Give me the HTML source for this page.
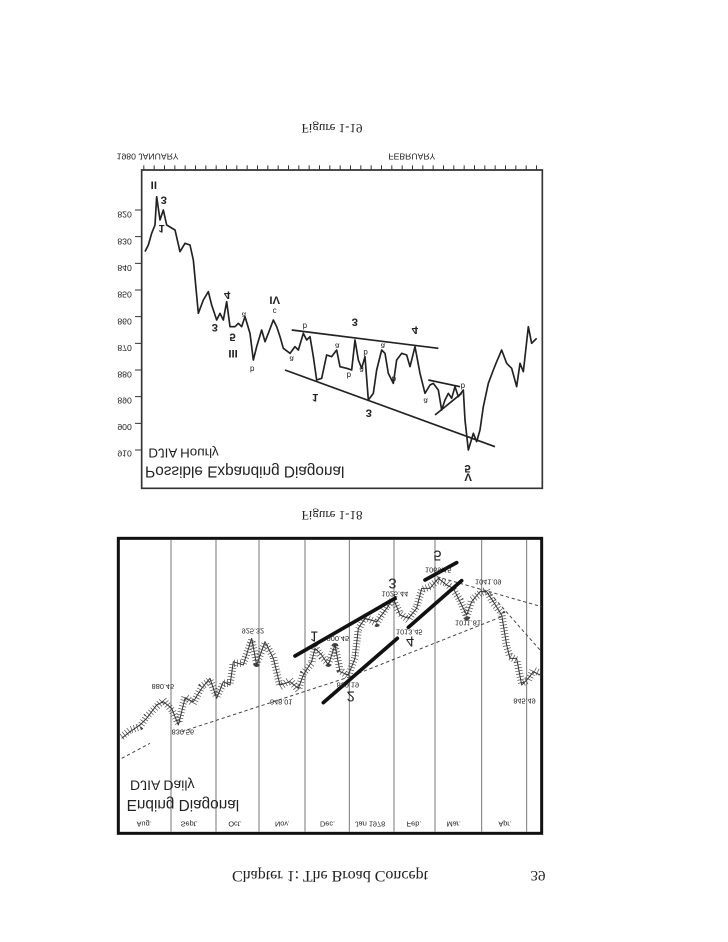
<!DOCTYPE html>
<html><head><meta charset="utf-8"><style>
html,body{margin:0;padding:0;background:#fff;}
svg{display:block;}
text{font-family:"Liberation Sans",sans-serif;fill:#222;}
.serif{font-family:"Liberation Serif",serif;}
</style></head><body>
<svg width="728" height="942" viewBox="0 0 728 942" xmlns="http://www.w3.org/2000/svg">
<rect width="728" height="942" fill="#fff"/>
<text class="serif" transform="translate(332,124) scale(1,-1)" font-size="13" text-anchor="middle">Figure 1-19</text>
<text class="serif" transform="translate(332,511) scale(1,-1)" font-size="13" text-anchor="middle">Figure 1-18</text>
<text class="serif" transform="translate(330,871) scale(1,-1)" font-size="16" text-anchor="middle">Chapter 1: The Broad Concept</text>
<text class="serif" transform="translate(538,871) scale(1,-1)" font-size="15" text-anchor="middle">39</text>

<g transform="translate(110,120) scale(0.33333)">
  <path d="M95 1105 L1297 1105 L1297 150 L95 150 Z" fill="none" stroke="#333" stroke-width="5"/>
  <line x1="100" y1="143" x2="1295" y2="143" stroke="#333" stroke-width="14" stroke-dasharray="3,28"/>
  <text transform="translate(20,100) scale(1,-1)" font-size="26">1980 JANUARY</text>
  <text transform="translate(835,100) scale(1,-1)" font-size="26">FEBRUARY</text>
  <g stroke="#333" stroke-width="3" fill="none">
    <path d="M75 990H95M75 910H95M75 830H95M75 750H95M75 670H95M75 590H95M75 510H95M75 430H95M75 350H95M75 270H95"/>
  </g>
  <g font-size="26">
    <text transform="translate(22,275) scale(1,-1)">820</text>
    <text transform="translate(22,355) scale(1,-1)">830</text>
    <text transform="translate(22,435) scale(1,-1)">840</text>
    <text transform="translate(22,515) scale(1,-1)">850</text>
    <text transform="translate(22,595) scale(1,-1)">860</text>
    <text transform="translate(22,675) scale(1,-1)">870</text>
    <text transform="translate(22,755) scale(1,-1)">880</text>
    <text transform="translate(22,832) scale(1,-1)">890</text>
    <text transform="translate(22,912) scale(1,-1)">900</text>
    <text transform="translate(22,992) scale(1,-1)">910</text>
  </g>
  <polyline fill="none" stroke="#222" stroke-width="5" stroke-linejoin="round" points="105,395 115,375 125,340 135,315 140,230 150,300 160,270 170,315 195,330 210,395 225,370 240,375 250,420 265,580 280,540 295,515 305,555 320,600 330,580 340,600 350,545 360,620 375,620 385,610 395,620 405,590 420,640 430,720 440,680 455,630 465,665 475,640 490,600 500,620 510,650 520,685 540,700 555,680 565,690 580,640 590,660 600,650 610,710 620,780 635,775 650,705 665,710 680,690 690,740 710,745 725,750 735,660 745,720 755,745 765,710 775,840 790,820 800,750 815,690 825,700 835,760 850,790 860,720 875,700 890,705 900,740 915,680 930,760 945,820 960,795 970,790 985,810 995,870 1005,840 1015,820 1025,835 1035,800 1045,830 1060,810 1065,900 1075,990 1090,940 1100,965 1110,930 1120,860 1135,790 1150,750 1160,725 1175,690 1190,730 1205,745 1220,800 1230,730 1240,755 1255,620 1265,670 1280,655"/>
  <g stroke="#222" stroke-width="5">
    <line x1="545" y1="630" x2="985" y2="685"/>
    <line x1="525" y1="750" x2="1155" y2="980"/>
    <line x1="955" y1="780" x2="1050" y2="800"/>
    <line x1="975" y1="885" x2="1055" y2="820"/>
  </g>
  <g font-size="34" font-weight="bold">
    <text transform="translate(122,185) scale(1,-1)">II</text>
    <text transform="translate(152,230) scale(1,-1)">3</text>
    <text transform="translate(145,315) scale(1,-1)">1</text>
    <text transform="translate(342,515) scale(1,-1)">4</text>
    <text transform="translate(305,612) scale(1,-1)">3</text>
    <text transform="translate(358,640) scale(1,-1)">5</text>
    <text transform="translate(355,690) scale(1,-1)">III</text>
    <text transform="translate(478,530) scale(1,-1)">IV</text>
    <text transform="translate(725,595) scale(1,-1)">3</text>
    <text transform="translate(905,620) scale(1,-1)">4</text>
    <text transform="translate(606,822) scale(1,-1)">1</text>
    <text transform="translate(767,868) scale(1,-1)">3</text>
    <text transform="translate(1063,1035) scale(1,-1)">5</text>
    <text transform="translate(1063,1060) scale(1,-1)">V</text>
  </g>
  <g font-size="24">
    <text transform="translate(395,578) scale(1,-1)">a</text>
    <text transform="translate(420,740) scale(1,-1)">b</text>
    <text transform="translate(488,565) scale(1,-1)">c</text>
    <text transform="translate(538,710) scale(1,-1)">a</text>
    <text transform="translate(578,610) scale(1,-1)">b</text>
    <text transform="translate(675,670) scale(1,-1)">a</text>
    <text transform="translate(710,758) scale(1,-1)">b</text>
    <text transform="translate(748,742) scale(1,-1)">a</text>
    <text transform="translate(760,690) scale(1,-1)">b</text>
    <text transform="translate(812,670) scale(1,-1)">a</text>
    <text transform="translate(845,770) scale(1,-1)">b</text>
    <text transform="translate(940,835) scale(1,-1)">a</text>
    <text transform="translate(1052,790) scale(1,-1)">b</text>
  </g>
  <text transform="translate(115,985) scale(1,-1)" font-size="40">DJIA Hourly</text>
  <text transform="translate(105,1040) scale(1,-1)" font-size="46">Possible Expanding Diagonal</text>
</g>

<g transform="translate(110,530) scale(0.33333)">
  <rect x="25" y="25" width="1270" height="885" fill="none" stroke="#111" stroke-width="9"/>
  <g stroke="#777" stroke-width="3">
    <line x1="183" y1="30" x2="183" y2="905"/><line x1="318" y1="30" x2="318" y2="905"/>
    <line x1="447" y1="30" x2="447" y2="905"/><line x1="585" y1="30" x2="585" y2="905"/>
    <line x1="718" y1="30" x2="718" y2="905"/><line x1="852" y1="30" x2="852" y2="905"/>
    <line x1="975" y1="30" x2="975" y2="905"/><line x1="1115" y1="30" x2="1115" y2="905"/>
    <line x1="1250" y1="30" x2="1250" y2="905"/>
  </g>
  <g fill="none" stroke="#333" stroke-linejoin="round">
    <polyline stroke-width="22" stroke-dasharray="2,7" stroke="#444" points="35,620 60,600 90,590 110,560 140,530 160,510 185,540 205,580 225,500 250,520 275,470 300,450 320,500 340,460 360,460 370,400 400,400 425,330 440,400 465,340 490,380 510,470 540,450 565,480 580,430 605,400 615,350 635,380 655,400 675,350 690,420 715,440 735,380 745,300 765,260 800,280 830,230 850,210 870,250 895,270 920,230 935,180 960,170 985,150 1010,160 1030,180 1050,210 1070,260 1085,210 1110,190 1130,180 1150,220 1175,250 1190,350 1200,380 1220,390 1235,460 1255,450 1270,420 1290,430"/>
    <polyline stroke-width="3" points="35,625 60,605 90,585 110,565 140,525 160,515 185,535 205,585 225,505 250,515 275,475 300,445 320,505 340,455 360,465 370,395 400,405 425,325 440,405 465,335 490,385 510,465 540,455 565,475 580,435 605,395 615,355 635,375 655,405 675,345 690,425 715,435 735,385 745,295 765,265 800,275 830,235 850,205 870,255 895,265 920,235 935,175 960,175 985,145 1010,165 1030,175 1050,215 1070,255 1085,215 1110,185 1130,185 1150,215 1175,255 1190,345 1200,385 1220,385 1235,465 1255,445 1270,425 1290,435"/>
  </g>
  <g stroke="#444" stroke-width="3" stroke-dasharray="10,8" fill="none">
    <line x1="35" y1="685" x2="120" y2="640"/>
    <polyline points="215,605 720,440 1175,260"/>
    <line x1="980" y1="140" x2="1295" y2="230"/>
    <line x1="1140" y1="190" x2="1290" y2="360"/>
  </g>
  <g stroke="#111" stroke-width="11" stroke-linecap="round">
    <line x1="555" y1="378" x2="855" y2="205"/>
    <line x1="640" y1="518" x2="862" y2="325"/>
    <line x1="895" y1="292" x2="1055" y2="152"/>
    <line x1="945" y1="150" x2="1040" y2="98"/>
  </g>
  <g font-size="44">
    <text transform="translate(600,305) scale(1,-1)">1</text>
    <text transform="translate(710,485) scale(1,-1)">2</text>
    <text transform="translate(835,145) scale(1,-1)">3</text>
    <text transform="translate(888,320) scale(1,-1)">4</text>
    <text transform="translate(970,62) scale(1,-1)">5</text>
  </g>
  <g font-size="22">
    <text transform="translate(125,462) scale(1,-1)">880.45</text>
    <text transform="translate(185,598) scale(1,-1)">830.56</text>
    <text transform="translate(395,295) scale(1,-1)">925.32</text>
    <text transform="translate(480,508) scale(1,-1)">848.01</text>
    <text transform="translate(650,318) scale(1,-1)">900.45</text>
    <text transform="translate(680,458) scale(1,-1)">859.19</text>
    <text transform="translate(815,185) scale(1,-1)">1025.44</text>
    <text transform="translate(858,298) scale(1,-1)">1013.45</text>
    <text transform="translate(945,112) scale(1,-1)">1069.15</text>
    <text transform="translate(1035,272) scale(1,-1)">1011.81</text>
    <text transform="translate(1095,148) scale(1,-1)">1041.09</text>
    <text transform="translate(1210,505) scale(1,-1)">845.49</text>
  </g>
  <text transform="translate(60,752) scale(1,-1)" font-size="42">DJIA Daily</text>
  <text transform="translate(50,810) scale(1,-1)" font-size="46">Ending Diagonal</text>
  <g font-size="22">
    <text transform="translate(80,875) scale(1,-1)">Aug.</text>
    <text transform="translate(212,875) scale(1,-1)">Sept.</text>
    <text transform="translate(355,875) scale(1,-1)">Oct.</text>
    <text transform="translate(495,875) scale(1,-1)">Nov.</text>
    <text transform="translate(630,875) scale(1,-1)">Dec.</text>
    <text transform="translate(735,875) scale(1,-1)">Jan 1978</text>
    <text transform="translate(890,875) scale(1,-1)">Feb.</text>
    <text transform="translate(1010,875) scale(1,-1)">Mar.</text>
    <text transform="translate(1165,875) scale(1,-1)">Apr.</text>
  </g>
</g>
</svg>
</body></html>
